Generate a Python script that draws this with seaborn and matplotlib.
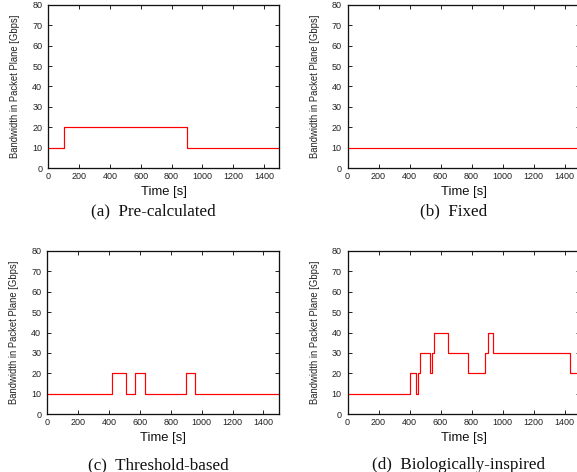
import matplotlib
matplotlib.use("Agg")
import matplotlib.pyplot as plt
import seaborn as sns
import pandas as pd

# Step-change times [s] and bandwidth levels [Gbps] for each strategy
pre_t = [0, 100, 900, 1500]
pre_bw = [10, 20, 10, 10]

fixed_t = [0, 1500]
fixed_bw = [10, 10]

thr_t = [0, 420, 510, 570, 630, 900, 960, 1500]
thr_bw = [10, 20, 10, 20, 10, 20, 10, 10]

bio_t = [0, 405, 445, 455, 470, 535, 545, 555, 650, 780, 890, 905, 940, 1435, 1500]
bio_bw = [10, 20, 10, 20, 30, 20, 30, 40, 30, 20, 30, 40, 30, 20, 20]

captions = ["(a)  Pre-calculated", "(b)  Fixed", "(c)  Threshold-based", "(d)  Biologically-inspired"]
x_ticks = [0, 200, 400, 600, 800, 1000, 1200, 1400]
y_ticks = [0, 10, 20, 30, 40, 50, 60, 70, 80]

sns.set_theme(style="ticks")
plt.rcParams["font.family"] = ["Liberation Sans", "DejaVu Sans"]

W, H = 577, 472
fig = plt.figure(figsize=(W / 72, H / 72), dpi=72)

# panel boxes in pixels: left, top, width, height
boxes = [(48.3, 5, 231, 163), (347.5, 5, 232.5, 163),
         (47.3, 251, 231.5, 163), (347.5, 251, 232.5, 163)]
series = [(pre_t, pre_bw), (fixed_t, fixed_bw), (thr_t, thr_bw), (bio_t, bio_bw)]
cap_pos = [(153, 211), (454, 211), (158, 465), (458, 465)]

for (l, t, w, h), (xs, ys), cap, (cx, cy) in zip(boxes, series, captions, cap_pos):
    ax = fig.add_axes([l / W, 1 - (t + h) / H, w / W, h / H])
    df = pd.DataFrame({"Time": xs, "Bandwidth": ys})
    sns.lineplot(data=df, x="Time", y="Bandwidth", ax=ax, color="#ff0000",
                 linewidth=1.2, drawstyle="steps-post", clip_on=True)
    ax.set_xlim(0, 1500)
    ax.set_ylim(0, 80)
    ax.set_xticks(x_ticks)
    ax.set_yticks(y_ticks)
    ax.tick_params(direction="in", length=4, width=0.9, color="#111111",
                   top=True, right=True, labelsize=9, colors="#222222")
    ax.tick_params(axis="x", pad=4)
    ax.tick_params(axis="y", pad=6)
    for s in ax.spines.values():
        s.set_linewidth(1.3)
        s.set_color("#111111")
    ax.set_xlabel("Time [s]", fontsize=13, color="#111111")
    ax.xaxis.label.set_va("center")
    ax.xaxis.set_label_coords(0.5, -24 / h)
    ax.set_ylabel("Bandwidth in Packet Plane [Gbps]", fontsize=9.5, color="#222222")
    ax.yaxis.label.set_va("center")
    ax.yaxis.set_label_coords(-33 / w, 0.5)
    fig.text(cx / W, 1 - cy / H, cap, ha="center", va="center", fontsize=17,
             family=["Liberation Serif", "DejaVu Serif"], color="#111111")

fig.savefig("out.png", dpi=72)
